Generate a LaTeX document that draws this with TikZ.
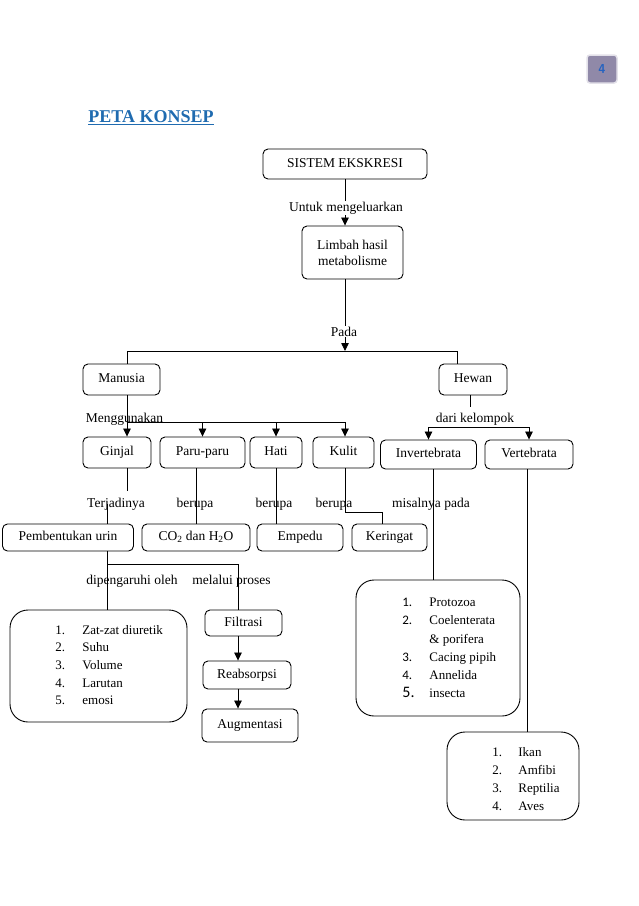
\documentclass[tikz,border=0pt]{standalone}
\usepackage{fontspec}
\setmainfont{Liberation Serif}
\newfontfamily\nomor{Carlito}
\usetikzlibrary{arrows.meta}

\definecolor{judul}{HTML}{1F6BB0}
\definecolor{halaman}{HTML}{9089A8}
\definecolor{angka}{HTML}{2563C0}

\begin{document}
\begin{tikzpicture}[x=1pt, y=-1pt, line width=0.8pt,
  kotak/.style={draw, rounded corners=5pt, line width=0.9pt, inner sep=0pt,
    align=center, font=\fontsize{13.5}{16}\selectfont},
  satu/.style={kotak, text height=9.5pt, text depth=3pt},
  daftar/.style={draw, rounded corners=18pt, line width=0.9pt, inner sep=0pt},
  isi/.style={anchor=west, align=left, inner sep=0pt},
  ket/.style={anchor=base, inner sep=1pt, font=\fontsize{13.5}{16}\selectfont},
  panah/.style={-{Triangle[length=8pt,width=7.5pt]}}]
  \useasboundingbox (0,0) rectangle (638,906);

  % nomor halaman dan judul
  \node[draw=white!75!halaman, fill=halaman, line width=1.5pt, rounded corners=3pt,
    minimum width=30pt, minimum height=28pt, text=angka,
    font=\sffamily\bfseries\fontsize{13}{15}\selectfont] (hal) at (602,69) {4};
  \node[anchor=west, inner sep=0pt, text=judul, font=\bfseries\fontsize{18}{21}\selectfont]
    (judul) at (88,118) {\underline{PETA KONSEP}};

  % kotak-kotak
  \node[satu, minimum width=164pt, minimum height=30pt] (sistem) at (345,164) {SISTEM EKSKRESI};
  \node[kotak, minimum width=101pt, minimum height=53pt] (limbah) at (352.5,252.5) {Limbah hasil\\metabolisme};
  \node[satu, minimum width=77pt, minimum height=31pt] (manusia) at (121.5,379.5) {Manusia};
  \node[satu, minimum width=68pt, minimum height=31pt] (hewan) at (473,379.5) {Hewan};
  \node[satu, minimum width=68pt, minimum height=31pt] (ginjal) at (117,452.5) {Ginjal};
  \node[satu, minimum width=85pt, minimum height=31pt] (paru) at (202.5,452.5) {Paru-paru};
  \node[satu, minimum width=52pt, minimum height=31pt] (hati) at (276,452.5) {Hati};
  \node[satu, minimum width=61pt, minimum height=31pt] (kulit) at (343.5,452.5) {Kulit};
  \node[satu, minimum width=96pt, minimum height=29pt] (inver) at (428.5,454.5) {Invertebrata};
  \node[satu, minimum width=88pt, minimum height=29pt] (verte) at (529,454.5) {Vertebrata};
  \node[satu, minimum width=131pt, minimum height=27pt] (urin) at (68,537.5) {Pembentukan urin};
  \node[satu, minimum width=108pt, minimum height=27pt] (gas) at (196,537.5) {CO\textsubscript{2} dan H\textsubscript{2}O};
  \node[satu, minimum width=86pt, minimum height=27pt] (empedu) at (300,537.5) {Empedu};
  \node[satu, minimum width=75pt, minimum height=27pt] (keringat) at (389.5,537.5) {Keringat};
  \node[satu, minimum width=77pt, minimum height=26pt] (filtrasi) at (243.5,623) {Filtrasi};
  \node[satu, minimum width=88pt, minimum height=28pt] (reabs) at (247,675) {Reabsorpsi};
  \node[satu, minimum width=96pt, minimum height=33pt] (augmen) at (250,725.5) {Augmentasi};

  % kotak daftar
  \node[daftar, minimum width=177pt, minimum height=112pt] (faktor) at (98.5,666) {};
  \node[isi, font=\fontsize{13}{17.7}\selectfont] (faktorIsi) at (55,665)
    {\makebox[27pt][l]{1.}Zat-zat diuretik\\
     \makebox[27pt][l]{2.}Suhu\\
     \makebox[27pt][l]{3.}Volume\\
     \makebox[27pt][l]{4.}Larutan\\
     \makebox[27pt][l]{5.}emosi};
  \node[daftar, minimum width=164pt, minimum height=136pt] (daftarInv) at (438,648) {};
  \node[isi, font=\fontsize{13}{18.3}\selectfont] (invIsi) at (402,648)
    {\makebox[27pt][l]{\nomor 1.}Protozoa\\
     \makebox[27pt][l]{\nomor 2.}Coelenterata\\
     \makebox[27pt][l]{}\& porifera\\
     \makebox[27pt][l]{\nomor 3.}Cacing pipih\\
     \makebox[27pt][l]{\nomor 4.}Annelida\\
     \makebox[27pt][l]{\nomor\fontsize{16}{18}\selectfont 5.}insecta};
  \node[daftar, minimum width=132pt, minimum height=88pt] (daftarVer) at (513,776) {};
  \node[isi, font=\fontsize{13}{18}\selectfont] (verIsi) at (492,779)
    {\makebox[26pt][l]{1.}Ikan\\
     \makebox[26pt][l]{2.}Amfibi\\
     \makebox[26pt][l]{3.}Reptilia\\
     \makebox[26pt][l]{4.}Aves};

  % titik cabang
  \coordinate (pada) at (345,351);
  \coordinate (kiri) at (127,351);
  \coordinate (kanan) at (457,351);
  \coordinate (guna) at (127,422);
  \coordinate (klp) at (470,427);
  \coordinate (kiriB) at (107,564);
  \coordinate (kananB) at (238,564);

  % penghubung
  \draw[panah] (sistem.south) -- (sistem.south |- limbah.north);
  \draw[panah] (limbah.south -| pada) -- (pada);
  \draw (kiri |- manusia.north) -- (kiri) -- (kanan) -- (kanan |- hewan.north);
  \draw (guna |- manusia.south) -- (guna) -- (guna -| pada);
  \draw[panah] (guna) -- (guna |- ginjal.north);
  \draw[panah] (guna -| paru.north) -- (paru.north);
  \draw[panah] (guna -| hati.north) -- (hati.north);
  \draw[panah] (guna -| pada) -- (pada |- kulit.north);
  \draw ([xshift=-3pt]hewan.south) -- ++(0,12);
  \draw[panah] (inver.north |- klp) -- (inver.north);
  \draw[panah] (inver.north |- klp) -- (verte.north |- klp) -- (verte.north);
  \draw (guna |- ginjal.south) -- ++(0,23);
  \draw (kiriB |- urin.north) -- ++(0,-20);
  \draw (gas.north |- paru.south) -- (gas.north);
  \draw (hati.south) -- (hati.south |- empedu.north);
  \draw (pada |- kulit.south) |- ([xshift=-7pt]keringat.north |- 0,512) -- ([xshift=-7pt]keringat.north);
  \draw ([xshift=4.5pt]inver.south) -- ([xshift=4.5pt]inver.south |- daftarInv.north);
  \draw ([xshift=-2pt]verte.south) -- ([xshift=-2pt]verte.south |- daftarVer.north);
  \draw (kiriB |- urin.south) -- (kiriB |- faktor.north);
  \draw (kiriB) -- (kananB) -- (kananB |- filtrasi.north);
  \draw[panah] (kananB |- filtrasi.south) -- (kananB |- reabs.north);
  \draw[panah] (kananB |- reabs.south) -- (kananB |- augmen.north);

  % keterangan
  \node[ket, fill=white] (lbUntuk) at (346,211) {Untuk mengeluarkan};
  \node[ket, fill=white] (lbPada) at (344,336) {Pada};
  \node[ket] (lbGuna) at (124.5,422) {Menggunakan};
  \node[ket] (lbKlp) at (475,422) {dari kelompok};
  \node[ket] (lbTerjadi) at (116,507) {Terjadinya};
  \node[ket] (lbBerupaA) at (195,507) {berupa};
  \node[ket] (lbBerupaB) at (274,507) {berupa};
  \node[ket] (lbBerupaC) at (334,507) {berupa};
  \node[ket] (lbMisal) at (431,507) {misalnya pada};
  \node[ket] (lbPengaruh) at (132,584) {dipengaruhi oleh};
  \node[ket] (lbProses) at (231.5,584) {melalui proses};
\end{tikzpicture}
\end{document}
